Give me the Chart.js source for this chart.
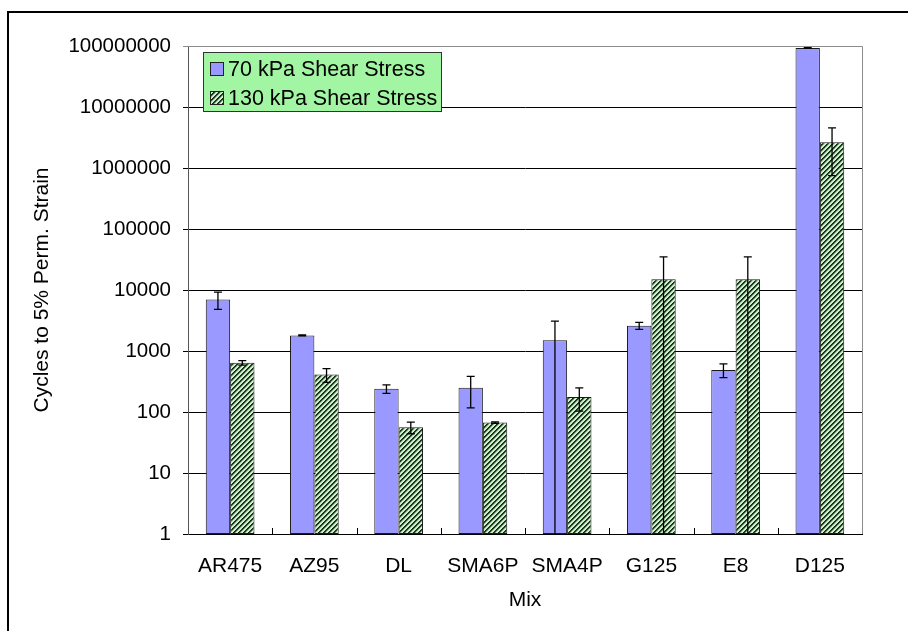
<!DOCTYPE html>
<html>
<head>
<meta charset="utf-8">
<title>Cycles to 5% Perm. Strain</title>
<script src="https://cdn.jsdelivr.net/npm/chart.js@4.4.1/dist/chart.umd.min.js"></script>
<style>
  html, body { margin: 0; padding: 0; background: #fff; overflow: hidden; }
  #wrap { position: relative; width: 908px; height: 631px; }
  #frame { position: absolute; left: 7px; top: 11px; width: 1000px; height: 700px;
           border: 2px solid #000; box-sizing: border-box; pointer-events: none; }
  canvas { position: absolute; left: 0; top: 0; }
</style>
</head>
<body>
<div id="wrap">
  <canvas id="chart" width="908" height="631"></canvas>
  <div id="frame"></div>
</div>
<script>
// data
const mixes = ['AR475', 'AZ95', 'DL', 'SMA6P', 'SMA4P', 'G125', 'E8', 'D125'];
const seriesNames = ['70 kPa Shear Stress', '130 kPa Shear Stress'];
const cycles70 = [7000, 1800, 240, 250, 1500, 2600, 490, 93000000];
const err70 = [2200, 30, 38, 133, 1600, 340, 125, 1000000];
const cycles130 = [640, 410, 56, 67, 176, 15000, 15000, 2650000];
const err130 = [55, 105, 12, 2, 73, 20000, 20000, 1900000];
const yTicks = [1, 10, 100, 1000, 10000, 100000, 1000000, 10000000, 100000000];

Chart.defaults.font.family = 'Arial, "Liberation Sans", sans-serif';
Chart.defaults.color = '#000';

// green hatched fill for the 130 kPa bars
function makeHatch() {
    const c = document.createElement('canvas');
    c.width = 5; c.height = 5;
    const g = c.getContext('2d');
    g.fillStyle = '#c6f6c6';
    g.fillRect(0, 0, 5, 5);
    for (let x = 0; x < 5; x++) {
        for (let y = 0; y < 5; y++) {
            const k = (x + y) % 5;
            if (k === 0) { g.fillStyle = '#1c281c'; g.fillRect(x, y, 1, 1); }
            else if (k === 1) { g.fillStyle = '#2f3f2f'; g.fillRect(x, y, 1, 1); }
            else if (k === 2) { g.fillStyle = '#8fb08f'; g.fillRect(x, y, 1, 1); }
        }
    }
    return g.createPattern(c, 'repeat');
}
const hatch = makeHatch();

// --- error bars, drawn from the y scale ---
const errorBars = {
    id: 'errorBars',
    afterDatasetsDraw(chart) {
        const ctx = chart.ctx;
        const ys = chart.scales.y;
        const area = chart.chartArea;
        chart.data.datasets.forEach((ds, di) => {
            chart.getDatasetMeta(di).data.forEach((bar, i) => {
                const v = ds.data[i], e = ds.errors[i];
                const yTop = ys.getPixelForValue(v + e);
                const lo = v - e;
                const yBot = lo > 0 ? ys.getPixelForValue(lo) : area.bottom;
                ctx.save();
                ctx.strokeStyle = '#000';
                ctx.lineWidth = 1.3;
                ctx.beginPath();
                ctx.moveTo(bar.x, yTop); ctx.lineTo(bar.x, yBot);
                ctx.moveTo(bar.x - 4, yTop); ctx.lineTo(bar.x + 4, yTop);
                if (lo > 0) { ctx.moveTo(bar.x - 4, yBot); ctx.lineTo(bar.x + 4, yBot); }
                ctx.stroke();
                ctx.restore();
            });
        });
    }
};

// --- plot frame, category tick marks and legend ---
const frameAndLegend = {
    id: 'frameAndLegend',
    afterDraw(chart) {
        const ctx = chart.ctx;
        const a = chart.chartArea;
        const xs = chart.scales.x;
        ctx.save();
        // grey plot border on top / right
        ctx.strokeStyle = '#8c8c8c';
        ctx.lineWidth = 1;
        ctx.beginPath();
        ctx.moveTo(a.left, a.top + 0.5); ctx.lineTo(a.right + 0.5, a.top + 0.5);
        ctx.lineTo(a.right + 0.5, a.bottom);
        ctx.stroke();
        // inward tick marks between categories
        const step = xs.getPixelForValue(1) - xs.getPixelForValue(0);
        const x0 = xs.getPixelForValue(0) - step / 2;
        ctx.strokeStyle = '#000';
        ctx.beginPath();
        for (let i = 1; i < mixes.length; i++) {
            const x = Math.round(x0 + i * step) + 0.5;
            ctx.moveTo(x, a.bottom); ctx.lineTo(x, a.bottom - 6);
        }
        ctx.stroke();

        // legend box
        const lx = 203, ly = 52, lw = 238, lh = 59;
        ctx.fillStyle = '#a2f5a2';
        ctx.fillRect(lx, ly, lw, lh);
        ctx.strokeStyle = '#333';
        ctx.strokeRect(lx + 0.5, ly + 0.5, lw, lh);
        ctx.font = '21.5px Arial, "Liberation Sans", sans-serif';
        ctx.textBaseline = 'middle';
        ctx.textAlign = 'left';
        chart.data.datasets.forEach((ds, i) => {
            const cy = ly + 17 + i * 29;
            ctx.fillStyle = ds.backgroundColor;
            ctx.fillRect(lx + 7, cy - 7, 14, 14);
            ctx.strokeStyle = '#222';
            ctx.strokeRect(lx + 7.5, cy - 6.5, 13, 13);
            ctx.fillStyle = '#000';
            ctx.fillText(ds.label, lx + 25, cy + 1);
        });
        ctx.restore();
    }
};

new Chart(document.getElementById('chart'), {
    type: 'bar',
    data: {
        labels: mixes,
        datasets: [{
            label: seriesNames[0],
            data: cycles70,
            errors: err70,
            backgroundColor: '#9999ff',
            borderColor: '#1a1a1a',
            borderWidth: 1,
            borderSkipped: false
        }, {
            label: seriesNames[1],
            data: cycles130,
            errors: err130,
            backgroundColor: hatch,
            borderColor: '#1a1a1a',
            borderWidth: 1,
            borderSkipped: false
        }]
    },
    options: {
        responsive: false,
        animation: false,
        categoryPercentage: 0.578,
        barPercentage: 1,
        layout: { padding: { left: 0, top: 46, right: 46, bottom: 0 } },
        plugins: {
            legend: { display: false },
            tooltip: { enabled: false }
        },
        scales: {
            x: {
                grid: { display: false, drawTicks: false },
                border: { color: '#000', width: 1 },
                ticks: { color: '#000', font: { size: 21 }, padding: 20, maxRotation: 0 },
                title: { display: true, text: 'Mix', color: '#000', font: { size: 21 },
                         padding: { top: 0, bottom: 18 } },
                afterFit(s) { s.height = 97; }
            },
            y: {
                type: 'logarithmic',
                min: 1,
                max: 100000000,
                afterBuildTicks(s) { s.ticks = yTicks.map(v => ({ value: v })); },
                ticks: {
                    color: '#000',
                    font: { size: 20.5 },
                    padding: 12,
                    callback: v => String(v)
                },
                grid: {
                    color: c => (c.tick && c.tick.value === 100000000) ? '#8c8c8c' : '#000',
                    lineWidth: 1,
                    tickLength: 5
                },
                border: { color: '#555', width: 1 },
                title: { display: true, text: 'Cycles to 5% Perm. Strain', color: '#000',
                         font: { size: 21 }, padding: { top: 30, bottom: 0 } },
                afterFit(s) { s.width = 188; }
            }
        }
    },
    plugins: [errorBars, frameAndLegend]
});
</script>
</body>
</html>
